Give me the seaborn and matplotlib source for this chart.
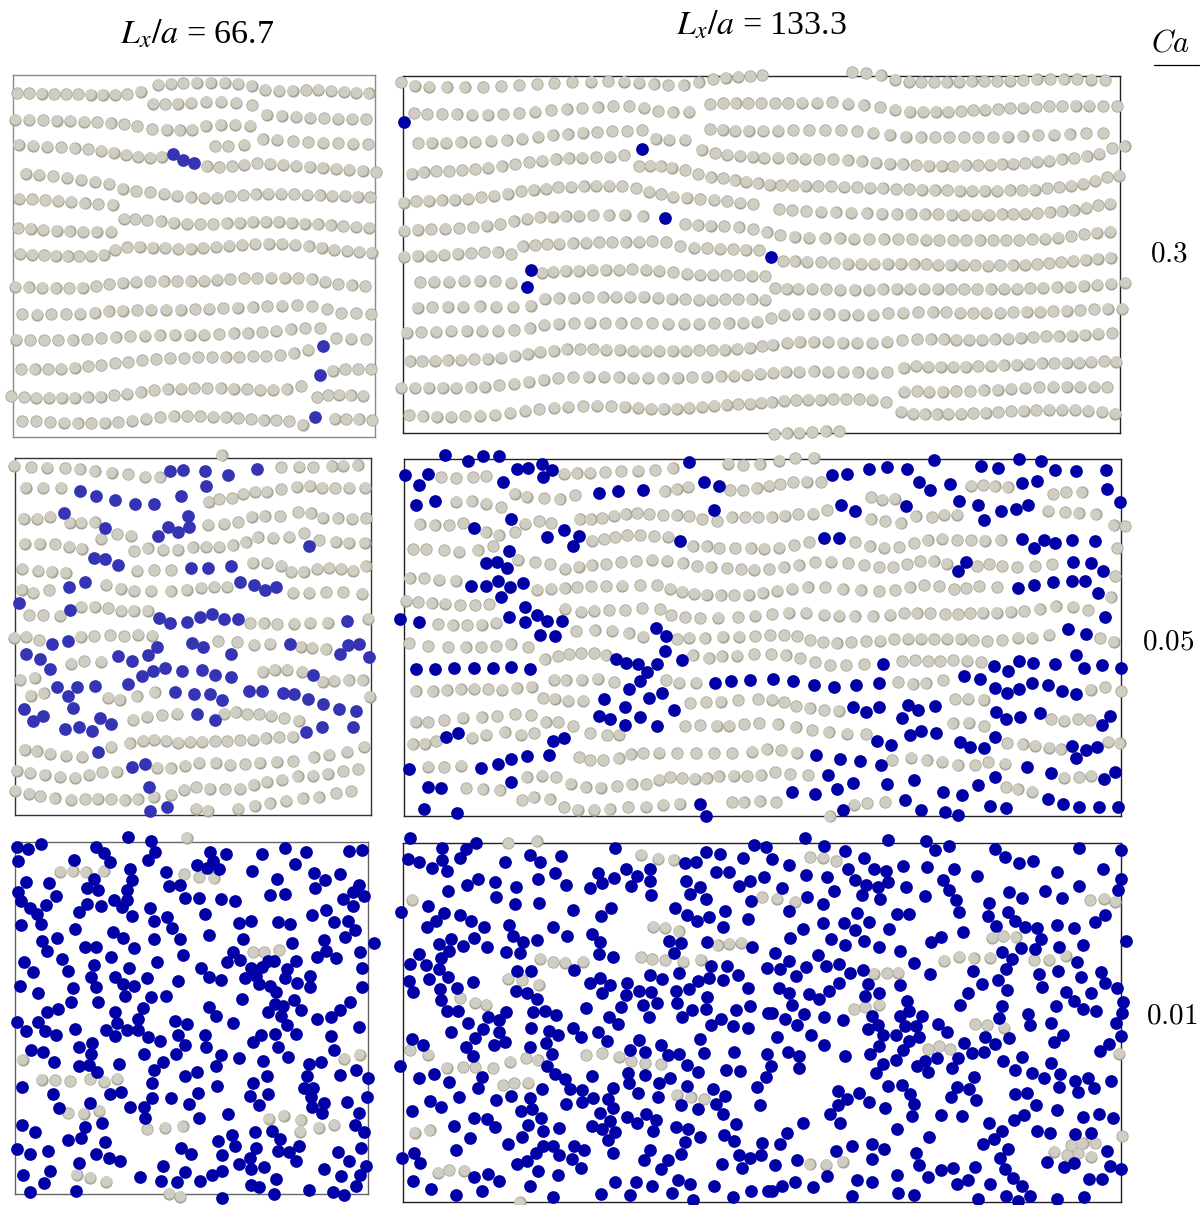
import matplotlib
matplotlib.use('Agg')
import matplotlib.pyplot as plt
from matplotlib.lines import Line2D
import numpy as np
import pandas as pd
import seaborn as sns

### Particle centres (1 unit = 1/3 pixel, per crop) ###
p1_grey = [51,100, 88,100, 125,102, 162,103, 199,103, 235,103, 272,104, 308,105, 345,105, 381,103, 422,95, 475,74, 513,71, 550,70, 590,68, 632,68, 674,68, 715,71, 755,77, 795,89, 837,92, 878,93, 918,91, 955,90, 993,93, 1032,96, 1069,98, 1106,100,
    460,131, 496,133, 533,132, 574,129, 618,126, 664,126, 709,129, 757,136, 800,165, 845,168, 888,171, 931,173, 973,175, 1015,176, 1056,177, 1098,178,
    46,180, 88,180, 129,181, 170,182, 211,183, 252,185, 292,187, 332,190, 372,193, 412,199, 457,208, 500,210, 539,211, 576,209, 617,197, 662,194, 705,195, 750,197,
    56,254, 99,257, 142,260, 183,262, 224,265, 264,268, 303,273, 341,278, 378,285, 414,290, 450,293, 485,291, 646,259, 685,259, 732,254, 788,238, 832,240, 879,244, 925,247, 969,248, 1014,250, 1060,252, 1104,253,
    620,319, 658,322, 696,319, 733,314, 771,310, 810,311, 850,314, 889,317, 929,320, 968,323, 1008,326, 1048,329, 1088,333, 1129,337,
    77,342, 118,345, 160,349, 202,353, 243,359, 285,365, 327,372, 368,387, 408,394, 451,397, 492,401, 532,407, 572,412, 613,414, 652,413, 691,409, 729,406, 767,403, 805,402, 844,402, 882,403, 921,405, 959,406, 997,407, 1035,408, 1073,410, 1111,412,
    58,416, 96,418, 135,421, 174,423, 213,426, 254,430, 295,433, 338,435,
    372,477, 405,478, 442,481, 482,484, 521,488, 561,491, 600,493, 640,493, 680,490, 719,488, 758,486, 797,485, 836,486, 875,488, 914,491, 953,493, 992,496, 1030,499, 1069,501, 1107,503,
    54,505, 92,507, 130,509, 170,512, 209,514, 250,516, 290,516, 333,516,
    60,581, 96,584, 132,586, 167,588, 203,589, 238,589, 274,588, 311,584, 346,570, 381,562, 419,561, 458,563, 496,564, 534,566, 572,566, 610,563, 649,560, 687,557, 727,554, 766,552, 806,551, 847,552, 886,554, 926,559, 965,564, 1003,569, 1041,572, 1078,575, 1115,578,
    45,681, 86,682, 127,684, 167,685, 208,685, 248,684, 288,680, 328,674, 368,669, 408,666, 450,665, 491,665, 532,665, 572,665, 612,663, 652,660, 691,658, 732,656, 772,655, 813,654, 854,654, 895,656, 935,659, 975,666, 1015,673, 1055,677, 1096,679,
    67,764, 111,765, 154,764, 198,764, 241,762, 284,759, 326,755, 368,753, 411,751, 454,750, 498,750, 542,750, 585,749, 628,747, 670,746, 713,744, 758,742, 801,740, 846,738, 891,737, 937,739, 982,748, 1023,760, 1069,761, 1114,763,
    48,840, 91,842, 133,842, 175,842, 218,842, 261,839, 304,836, 347,833, 391,830, 435,828, 479,826, 524,825, 569,825, 613,825, 657,823, 701,821, 743,820, 786,817, 828,813, 872,809, 916,805, 961,805, 1008,835, 1053,837, 1098,838,
    64,929, 104,929, 145,928, 184,927, 224,924, 264,920, 304,916, 345,911, 385,907, 427,902, 468,899, 510,896, 552,895, 595,893, 636,893, 677,892, 718,892, 759,890, 799,889, 840,886, 881,880, 925,870,
    998,933, 1035,929, 1074,928, 1114,929,
    34,1010, 72,1012, 109,1014, 147,1014, 185,1014, 224,1014, 263,1013, 302,1011, 342,1006, 381,1002, 422,997, 462,992, 503,989, 544,987, 583,986, 622,986, 662,986, 701,987, 741,989, 781,990, 820,990, 860,988, 904,979,
    952,1013, 984,1007, 1017,1005, 1052,1006, 1090,1008,
    66,1084, 108,1085, 150,1087, 192,1089, 233,1090, 274,1090, 314,1089, 355,1088, 397,1083, 439,1077, 481,1072, 521,1070, 561,1069, 600,1069, 639,1071, 677,1073, 715,1075, 754,1079, 791,1081, 828,1082, 868,1084, 908,1095, 1004,1077, 1039,1078, 1076,1079, 1116,1081]
p1_blue = [518,281, 549,301, 583,308, 968,858, 960,947, 944,1073]

p2_grey = [43,63, 93,67, 141,68, 195,70, 239,73, 284,79, 335,83, 385,88, 436,96, 479,97, 665,31, 843,67, 897,65, 940,67, 995,64, 1030,63, 1073,61,
    77,129, 129,129, 183,129, 626,171, 658,163, 697,160, 730,146, 765,141, 800,141, 843,133, 890,125, 929,123, 966,128, 1006,130, 1048,128, 1096,128,
    71,221, 112,221, 151,216, 209,233, 244,233, 284,232, 352,268, 393,272, 303,282, 625,240, 672,236, 714,232, 755,216, 794,214, 840,214, 894,202, 932,205, 968,218, 1013,220, 1057,221, 1098,220,
    74,296, 119,296, 165,298, 207,305, 245,312, 403,319, 443,310, 489,314, 533,315, 578,307, 618,305, 657,305, 698,301, 737,292, 773,277, 820,278, 868,276, 912,265, 958,286, 1007,291, 1046,294, 1094,293,
    67,371, 114,377, 155,380, 197,384, 411,378, 463,376, 513,376, 758,354, 801,354, 843,363, 873,380, 911,380, 951,371, 988,368, 1023,371, 1060,377, 1097,364,
    65,434, 99,443, 147,436, 318,420, 362,432, 403,437, 454,437, 512,439, 560,435, 604,428, 642,426, 681,425, 880,443, 928,444, 979,442, 1030,442, 1086,446,
    87,511, 130,511, 180,512, 244,486, 284,485, 325,490, 363,497, 401,498, 443,498, 751,535, 791,535, 831,538, 883,536, 930,534, 983,534, 1105,522,
    43,579, 79,576, 118,586, 242,576, 283,574, 330,571, 373,574, 414,570, 456,572, 655,589, 711,592, 763,599, 811,596, 902,605, 936,608, 977,613,
    213,656, 253,649, 304,650, 60,705, 104,699, 788,680, 824,675, 861,674, 907,681, 968,711, 1003,708, 1046,706, 1088,706,
    92,752, 131,745, 325,758, 359,765, 410,754, 464,742, 1109,755,
    399,825, 442,816, 486,811, 532,807, 673,806, 707,802, 741,808, 777,808, 813,813, 853,820, 896,827,
    389,895, 430,888, 463,885, 498,887, 534,893, 570,891, 607,891, 646,889, 682,889, 720,886, 759,884, 797,880, 838,877, 878,875,
    74,915, 110,919, 151,926, 198,932, 246,936, 333,906, 941,937, 987,929, 1042,921, 1093,906,
    50,978, 91,984, 134,990, 180,995, 225,999, 267,990, 306,982, 350,980, 472,969, 512,970, 556,963, 598,953, 647,953, 690,959, 735,958, 779,953, 830,951, 879,949,
    45,1038, 87,1047, 121,1054, 164,1060, 213,1065, 255,1063, 293,1062, 334,1063, 374,1066, 413,1063, 461,1055, 513,1050, 552,1035, 589,1027, 629,1031, 675,1033, 720,1032, 761,1020, 800,1010, 846,1004, 893,994, 939,993, 983,986, 1029,979, 1074,973,
    589,1092, 623,1098, 715,1091, 764,1082, 809,1075, 858,1068, 908,1060, 956,1057, 1008,1045, 1053,1039]
p2_blue = [511,78, 548,75, 616,79, 684,89, 771,71, 619,124, 239,139, 288,152, 345,165, 406,176, 463,177, 544,152,
    191,204, 563,212, 316,248, 505,246, 534,262, 568,246, 475,274, 927,304, 281,340, 315,342, 355,361, 573,370, 625,368, 692,363,
    207,425, 254,412, 720,410, 761,421, 794,434, 829,425, 57,474, 210,496, 476,520, 511,533, 562,530, 599,517, 636,508, 672,522, 714,521, 1042,528,
    157,598, 204,588, 471,606, 575,594, 610,605, 869,596, 1043,599, 1076,596, 79,628, 119,641, 353,634, 396,649, 443,631, 694,628, 1020,628, 1108,637,
    150,671, 427,692, 459,678, 496,668, 545,677, 607,675, 646,691, 694,696, 939,691,
    171,726, 231,726, 284,723, 204,753, 385,717, 524,740, 581,746, 631,748, 666,765, 748,737, 787,737, 849,743, 882,748, 923,762, 968,777, 1017,792, 1069,799,
    71,792, 218,790, 99,827, 130,813, 299,820, 332,838, 196,852, 236,847, 276,857, 591,807, 644,826,
    919,862, 967,846, 1060,845, 293,921, 395,966, 435,957, 447,1025, 450,1097, 501,1087]

p3_grey = [560,38, 181,140, 218,138, 257,141, 311,138, 553,148, 598,157, 641,159, 759,382, 792,382, 837,376, 68,704, 1032,702, 1079,689, 125,765, 166,766, 211,769, 270,763, 312,771, 351,762, 205,865, 251,866, 297,858, 806,882, 851,873, 902,886, 901,921, 956,909, 1003,900, 442,913, 496,909, 548,904, 230,1049, 271,1058, 318,1070, 508,1107, 540,1116]
p3_blue = [385,37, 452,48, 51,65, 84,73, 123,58, 288,66, 312,84, 466,80, 631,80, 679,88, 785,88, 855,68, 918,80, 1047,79, 1086,75,
    54,107, 222,105, 330,112, 445,105, 640,108, 884,116, 390,133, 497,142, 590,121, 621,129, 658,133, 756,138, 941,143, 1020,147,
    77,170, 146,175, 281,163, 395,165, 506,182, 541,180, 832,162, 976,164, 944,188, 1078,181,
    261,190, 294,194, 380,196, 55,202, 169,214, 62,228, 342,226, 381,224, 554,220, 598,220, 664,222, 705,228, 809,211, 855,208, 1059,202, 1091,214, 1028,223,
    90,250, 137,241, 262,238, 303,243, 367,246, 450,249, 238,260, 1060,242, 978,255, 111,267, 395,273, 502,277, 616,268, 936,271,
    122,296, 63,300, 461,287, 718,294, 753,288, 833,291, 871,296, 1003,290, 1044,288, 515,309, 225,313, 338,321, 1065,315,
    127,347, 172,340, 369,340, 461,342, 540,341, 627,331, 729,343, 876,353, 973,345, 1034,335, 1123,354,
    255,367, 287,367, 403,370, 142,377, 700,380, 979,378, 1080,380, 548,389, 333,396, 951,395, 1007,398,
    187,402, 72,410, 471,411, 281,421, 680,411, 720,406, 805,407, 822,407, 887,408,
    100,441, 205,437, 387,430, 603,429, 754,429, 787,427, 862,431, 1085,429,
    273,455, 346,456, 441,458, 628,455, 664,466, 736,460, 767,452, 854,458, 929,453, 535,467,
    60,482, 218,488, 288,486, 369,478, 403,484, 777,478, 891,474, 809,484, 931,486, 1087,487,
    114,505, 452,515, 498,512, 376,512, 828,500, 212,532, 293,531, 727,522, 882,525, 1051,531,
    626,545, 824,537, 848,544, 429,550, 173,552, 141,562, 345,561, 803,560, 903,554, 1019,554,
    649,574, 842,572, 951,581, 994,577, 415,582, 51,592, 115,590, 352,594, 524,588, 560,596, 700,595,
    79,617, 134,619, 224,611, 317,614, 380,614, 414,616, 862,601, 1077,605,
    169,631, 345,634, 445,636, 479,648, 533,629, 616,631, 784,630, 825,627, 888,628, 994,633,
    275,653, 554,660, 617,665, 758,652, 835,666, 238,667, 94,675, 128,682, 274,686, 433,687, 529,687, 664,689, 1002,676, 717,700, 863,697,
    161,711, 236,724, 267,719, 356,718, 488,710, 647,723, 789,708, 928,717, 962,712,
    292,740, 461,735, 1067,736, 556,752, 591,742, 801,752, 921,754, 1020,750, 1105,760,
    65,785, 457,775, 651,782, 758,775, 913,788, 940,790, 159,806, 330,806, 364,800, 594,803, 751,814, 805,807, 933,815, 1101,816,
    457,819, 513,820, 270,834, 567,837, 777,840, 973,833, 1042,832, 176,850, 389,845, 431,846, 937,847,
    683,866, 966,865, 1077,864, 436,880, 598,879, 65,899, 306,895, 255,906, 1064,900, 105,921, 816,917, 766,922, 696,929, 1091,921,
    244,939, 205,946, 316,951, 655,947, 841,941, 704,962, 896,962, 51,971, 542,970, 768,968, 1084,969,
    143,979, 90,988, 288,987, 574,986, 666,990, 833,979, 867,982, 1014,982, 327,999, 749,998, 360,1007, 236,1013, 889,1008, 1047,1007,
    489,1022, 718,1018, 753,1032, 792,1026, 971,1032, 1098,1022, 149,1038, 556,1040, 666,1037, 69,1050, 636,1050, 1024,1052, 1080,1049,
    419,1057, 484,1067, 531,1071, 600,1068, 827,1062, 133,1074, 91,1100, 228,1097, 753,1081, 778,1086, 926,1095, 1000,1100, 1069,1083, 1031,1110, 821,1107, 665,1118]

p4_grey_l = [18,66, 59,77, 103,80, 155,81, 209,82, 264,81, 319,79, 373,76, 426,72, 478,69, 532,67, 588,65, 640,64, 688,65, 733,68, 776,73, 820,76, 866,76, 911,67, 954,57, 992,53, 1030,50, 1066,48, 1101,46,
    57,159, 97,163, 141,163, 185,163, 231,164, 278,164, 325,163, 373,159, 421,155, 468,151, 515,147, 562,144, 608,141, 655,138, 702,138, 747,143, 789,154, 833,156, 882,155, 945,132, 984,129, 1022,130, 1060,130, 1099,129,
    69,250, 110,248, 153,248, 197,247, 241,245, 288,242, 335,240, 382,236, 429,230, 473,226, 518,222, 563,218, 607,216, 651,214, 696,213, 742,211, 782,236, 823,239, 870,239, 945,208, 983,209, 1021,212, 1061,212, 1105,212,
    920,269, 960,279, 997,284, 1035,287, 1073,290, 1108,293,
    50,341, 86,337, 123,334, 162,333, 201,331, 240,327, 280,323, 320,319, 361,313, 402,307, 442,302, 482,297, 521,295, 562,293, 604,291, 646,290, 688,286, 733,319, 766,317, 797,319, 830,323, 870,331, 909,343, 947,351, 984,355, 1019,360, 1053,365, 1088,370,
    26,428, 63,423, 101,422, 140,421, 179,419, 219,416, 258,412, 297,407, 338,401, 378,394, 416,389, 453,386, 489,382, 528,380, 566,378, 604,377, 643,377, 682,378, 724,385, 763,395, 798,403, 835,410, 875,413, 916,417, 958,419, 996,423, 1036,428, 1075,433,
    27,512, 68,509, 109,507, 151,506, 193,504, 234,501, 275,497, 316,493, 356,484, 396,476, 434,472, 473,470, 512,469, 552,467, 595,465, 641,465, 689,464, 743,468, 871,492, 908,495, 947,497, 988,499, 1031,502, 1074,507, 1115,517,
    28,590, 68,588, 108,587, 148,584, 188,581, 229,579, 268,577, 308,577, 348,583, 383,558, 420,555, 456,553, 493,551, 533,550, 573,548, 613,547, 652,546, 692,546, 732,545, 772,544, 814,546, 856,558, 898,563, 937,565, 976,566, 1014,567, 1052,569, 1092,571,
    441,639, 474,636, 512,633, 551,632, 592,630, 632,630, 672,629, 712,628, 753,629, 793,632, 835,637, 876,642, 916,644, 955,645, 993,646, 1032,646, 1071,647, 1110,649,
    75,667, 118,665, 162,665, 208,663, 254,662, 300,664, 349,669, 449,716, 491,715, 536,713, 580,712, 623,712, 664,711, 706,711, 746,711, 789,713, 830,716, 871,718, 912,719, 952,719, 991,718, 1030,718, 1070,718, 1110,719,
    68,744, 112,742, 158,741, 205,740, 254,739, 304,740, 354,741, 407,737, 448,794, 491,791, 537,790, 584,789, 630,790, 677,790, 724,790, 772,790, 820,791, 868,791, 912,791, 957,790, 1001,790, 1044,789, 1087,786,
    35,819, 78,817, 123,815, 169,813, 215,813, 262,812, 310,812, 358,811, 404,805,
    44,904, 82,904, 120,902, 158,901, 198,899, 237,898, 278,896, 318,893, 359,888, 398,882, 436,875, 476,872, 515,868, 555,868, 595,868, 634,869, 674,870, 714,872, 754,872, 793,872, 833,872, 873,872, 912,871, 951,871, 989,869, 1027,867, 1064,864, 1102,859,
    19,983, 60,983, 101,984, 143,984, 184,983, 227,982, 269,980, 313,976, 358,971, 401,965, 446,959, 490,955, 535,952, 581,951, 627,951, 671,952, 715,953, 759,954, 803,955, 848,954, 892,952, 935,950, 977,949, 1017,947, 1056,945, 1095,941,
    42,1066, 83,1069, 125,1070, 168,1070, 211,1069, 256,1067, 301,1064, 345,1059, 390,1053, 433,1048, 477,1044, 520,1041, 564,1039, 606,1038, 649,1039, 689,1041, 729,1044, 768,1047, 806,1047, 845,1046, 883,1043, 921,1040, 958,1037, 995,1035, 1030,1033, 1065,1031, 1099,1028]
p4_grey_r = [262,37, 304,40, 347,46, 391,59, 432,65, 468,67, 508,67, 545,66, 582,65, 620,64, 658,64, 697,63, 736,62, 775,60, 815,58, 856,57, 896,57, 937,57, 979,59, 1021,61,
    30,129, 70,129, 112,128, 156,128, 201,127, 249,131, 296,135, 345,142, 391,149, 434,155, 474,155, 512,155, 549,155, 588,153, 625,151, 661,149, 699,147, 736,145, 774,143, 813,141, 852,139, 892,138, 932,137, 972,137, 1014,138, 1057,138,
    40,212, 85,211, 132,210, 180,210, 228,211, 276,213, 324,218, 374,224, 422,230, 467,232, 511,232, 553,232, 597,232, 640,232, 684,231, 728,230, 773,228, 820,226, 867,224, 914,222, 964,219, 1014,219,
    40,293, 80,295, 121,296, 163,297, 205,298, 248,300, 290,304, 332,308, 374,311, 413,313, 453,315, 491,317, 530,317, 565,318, 602,316, 639,315, 675,314, 710,313, 745,311, 781,309, 817,305, 853,302, 890,298, 927,294, 965,289, 1003,281, 1041,264, 1079,258,
    14,374, 48,376, 85,376, 122,377, 159,378, 198,379, 237,380, 276,382, 315,383, 353,385, 393,387, 432,388, 470,389, 509,390, 546,391, 584,392, 622,392, 659,392, 697,392, 734,390, 772,390, 809,389, 846,385, 882,382, 919,377, 955,371, 991,362, 1026,352, 1062,347,
    42,447, 82,451, 124,453, 168,455, 212,456, 259,458, 305,459, 350,461, 395,462, 437,462, 479,462, 520,463, 560,464, 598,464, 636,464, 673,464, 710,463, 745,462, 781,461, 817,459, 854,457, 890,454, 926,450, 963,443, 999,436, 1036,431,
    45,526, 89,530, 133,533, 179,534, 224,535, 268,536, 313,537, 356,538, 399,538, 441,538, 483,539, 523,540, 564,541, 604,541, 644,541, 684,541, 724,541, 763,540, 801,538, 840,536, 879,533, 918,528, 957,522, 995,518, 1036,515,
    54,604, 89,604, 127,606, 168,607, 208,610, 248,611, 288,611, 328,611, 368,612, 407,612, 446,613, 484,613, 520,614, 557,615, 594,615, 631,616, 669,617, 706,616, 743,616, 780,614, 816,613, 853,610, 889,607, 925,603, 962,600, 998,596, 1037,593,
    31,685, 65,686, 100,686, 141,686, 183,688, 226,689, 269,689, 312,689, 353,688, 395,687, 436,686, 478,686, 518,686, 558,688, 598,688, 637,688, 677,688, 717,687, 757,686, 796,685, 835,684, 875,682, 915,680, 956,677, 997,674, 1039,672, 1081,668,
    19,775, 57,764, 100,762, 146,762, 191,763, 236,764, 280,765, 324,764, 370,760, 415,759, 459,757, 503,757, 544,757, 585,759, 624,760, 664,759, 705,758, 745,757, 785,756, 825,755, 865,754, 905,752, 945,751, 987,748, 1028,747, 1072,746,
    23,855, 66,849, 104,846, 146,845, 189,846, 233,848, 277,848, 321,849, 367,845, 412,841, 456,838, 497,838, 536,838, 574,839, 613,840, 651,839, 689,838, 729,836, 767,834, 805,832, 843,829, 881,829, 920,827, 959,824, 999,821, 1041,820,
    24,938, 62,936, 103,935, 146,934, 190,935, 234,936, 278,937, 322,938, 367,937, 416,924, 453,918, 490,920, 527,920, 564,920, 602,920, 640,919, 678,917, 716,916, 755,914, 792,912, 830,910, 867,910, 905,908, 942,908, 979,906, 1017,904, 1053,905,
    20,1027, 57,1022, 93,1021, 129,1020, 167,1019, 205,1018, 243,1018, 283,1018, 322,1019, 364,1027, 418,995, 456,994, 493,995, 533,995, 573,994, 615,994, 656,991, 698,989, 739,986, 781,984, 822,982, 864,981, 905,980, 946,980, 987,981, 1027,982,
    408,1055, 444,1061, 479,1063, 515,1063, 550,1062, 588,1061, 625,1060, 662,1058, 700,1057, 738,1054, 776,1052, 814,1051, 852,1050, 891,1050, 931,1050, 970,1052, 1011,1056, 1050,1061,
    28,1123, 65,1120, 103,1119, 142,1117, 182,1114, 222,1114]
p4_blue_l = [26,187, 742,266, 809,473, 408,629, 397,681]
p4_blue_r = [19,592]

p5_grey_l = [139,97, 184,99, 234,97, 274,93, 507,86, 545,85, 586,83, 631,81, 678,78, 729,77, 780,76, 833,69, 1000,56, 1045,60, 1094,58,
    359,146, 395,155, 448,160, 494,162, 541,151, 809,139, 845,132, 880,125, 1006,136, 1045,135, 1085,129, 184,170, 230,168, 273,176, 319,186,
    554,223, 587,223, 622,219, 658,212, 692,207, 727,204, 763,207, 805,210, 845,210, 882,214, 922,222, 967,228, 1010,217, 1050,217, 1090,217,
    74,238, 119,240, 162,240, 204,235, 272,261, 311,271, 361,262, 390,236, 432,228, 468,235,
    591,287, 627,283, 661,277, 697,270, 735,271, 777,274, 819,275, 893,304, 935,303, 972,310, 1021,309, 1067,309, 1107,311,
    54,313, 94,312, 147,315, 193,320, 248,316, 295,303, 368,344, 420,351, 465,358, 510,371, 551,365, 590,360, 633,357, 678,352, 723,349, 771,344, 817,347, 863,355, 907,364, 947,366, 996,369, 1039,372, 1078,374,
    44,399, 88,400, 133,404, 182,407, 427,434, 468,431, 509,429, 547,427, 589,424, 633,423, 681,422, 735,421, 787,420, 826,431, 861,440, 897,446, 935,449, 977,451, 1018,451, 1061,449, 1103,443,
    34,467, 70,471, 110,474, 151,476, 195,480, 240,481, 283,478, 511,491, 558,500, 598,497, 642,495, 690,495, 742,490, 795,492, 828,511, 871,516, 916,520, 970,518, 1029,516, 1081,512,
    129,538, 173,540, 216,540, 260,539, 303,533, 544,558, 599,555, 652,557, 701,564, 745,575, 846,582, 883,578, 929,580, 983,575, 1033,575, 1081,573,
    43,595, 99,603, 160,607, 212,607, 259,606, 303,603, 347,597, 399,606,
    449,643, 490,634, 522,628, 558,624, 597,624, 632,630, 893,631, 941,640, 980,633, 1026,632, 1077,628,
    477,704, 512,705, 560,704, 608,701, 658,712, 814,705, 852,713, 904,713,
    62,739, 113,738, 155,735, 197,732, 237,731, 279,733, 321,734, 365,730, 410,725,
    445,759, 479,761, 520,767, 564,767, 886,774, 934,772, 977,770, 1029,766, 1090,762,
    62,830, 99,831, 148,825, 203,818, 260,816, 307,813, 360,807, 409,811, 452,832, 489,832, 535,844, 871,843, 915,841, 965,842, 1003,842, 1047,838, 1093,834,
    53,897, 89,896, 123,889, 232,878, 274,869, 329,861, 378,869, 418,864, 585,865, 637,871, 673,869,
    552,937, 586,945, 624,945, 671,939, 707,927, 745,925, 792,923, 847,925, 903,925, 957,924, 1011,925, 1071,920, 1115,913,
    100,965, 147,966, 198,962, 395,996, 442,992, 484,997, 527,1016, 572,1026, 617,1028, 666,1023, 710,1017, 754,1017, 793,1004, 826,996, 862,999, 899,1001, 935,999, 971,994, 1016,992, 1056,994, 1097,990,
    213,1030, 263,1033, 314,1035, 381,1065, 416,1057, 464,1062, 507,1086, 548,1094, 598,1094, 644,1092, 699,1086, 753,1085, 805,1079, 854,1076, 1011,1071, 1046,1072, 1094,1068]
p5_blue_l = [149,31, 220,47, 264,34, 311,34, 441,56, 881,51, 31,89, 100,86, 72,119, 365,73, 399,70, 471,75, 445,97, 323,110, 927,112, 973,123,
    611,143, 670,137, 743,134, 64,181, 120,169, 956,194, 348,221, 238,250, 506,254, 457,275, 551,274, 533,304, 856,288,
    342,318, 273,355, 306,352, 337,369, 308,407, 228,424, 272,424, 345,426, 384,415, 317,455,
    390,486, 15,523, 72,532, 343,515, 391,531, 427,511, 457,529, 500,529, 434,570, 479,572, 783,550, 812,573, 810,618,
    664,641, 694,655, 728,658, 786,656, 862,646, 755,681, 735,708, 702,731, 63,673, 120,673, 178,670, 236,669, 294,670, 348,666, 406,672,
    960,713, 1007,708, 1064,704, 800,744, 761,759, 627,761, 689,787, 838,796, 612,813, 645,822, 735,815, 691,839, 787,843,
    154,877, 189,864, 507,878, 474,887, 463,931, 397,932, 348,941, 309,956, 259,968, 43,973, 349,1011, 98,1026, 137,1029, 88,1093, 185,1103, 915,1077, 934,1114]
p5_grey_r = [43,47, 90,40, 146,38, 12,122, 46,117, 85,112, 125,110, 168,112, 319,157, 351,164, 389,161, 619,122, 655,120, 689,124, 728,126, 864,148, 904,142, 950,141,
    20,217, 59,212, 100,208, 145,206, 187,196, 317,223, 361,229, 407,234, 452,213, 502,217, 538,209, 576,209, 849,197, 900,202, 941,205, 992,208, 1046,240, 1081,244,
    43,308, 88,300, 132,291, 270,292, 314,303, 357,308, 403,306, 447,294, 488,285, 532,281, 576,286, 618,286, 659,287, 707,285, 1057,310,
    13,373, 56,367, 101,361, 150,352, 199,350, 250,355, 297,361, 342,367, 384,366, 427,357, 466,349, 506,349, 545,356, 636,364, 672,358, 712,363, 756,367, 811,363, 862,357, 1051,394,
    37,437, 81,431, 128,427, 181,427, 233,432, 287,436, 342,438, 391,435, 434,427, 478,421, 522,423, 567,433, 604,429, 642,423, 697,426, 1037,457,
    22,507, 71,503, 123,503, 177,509, 222,512, 269,513, 323,513, 376,509, 417,505, 455,504, 495,504, 540,507, 580,507, 616,504, 653,503, 695,503, 737,500, 778,498, 824,492, 872,483, 925,485, 970,495,
    15,570, 58,570, 97,574, 136,586, 175,592, 215,594, 259,592, 303,589, 345,587, 388,582, 430,581, 468,581, 507,582, 547,581, 587,581, 625,585, 667,588, 712,586, 760,578, 802,578, 852,569, 1006,580, 1046,590,
    18,627, 62,630, 106,640, 151,652, 195,660, 244,660, 297,657, 412,649, 451,645, 489,648, 526,648, 565,646, 606,647, 648,652,
    400,712, 443,717, 482,715, 534,705, 977,734, 1021,727, 1069,739, 22,764, 57,771, 94,783, 134,789, 178,795, 221,797, 570,762, 609,761, 656,764,
    38,838, 92,846, 142,856, 191,862, 246,866, 303,868, 563,835, 611,833, 658,843, 858,822, 898,827, 939,823, 975,825,
    48,915, 95,923, 726,894, 773,898, 810,902, 853,908, 887,912, 1029,890, 1064,895,
    382,945, 438,938, 485,945, 532,950, 578,960, 630,961, 670,951, 721,956, 30,982, 76,987, 129,991, 898,998, 942,996, 979,992,
    724,1027, 758,1033, 802,1040, 33,1072, 267,1079, 307,1075, 361,1072, 194,1113]
p5_blue_r = [506,46, 649,63, 698,68, 763,43, 828,48, 201,90, 245,87, 311,71, 365,67, 425,71, 871,74, 934,77, 1023,76,
    462,112, 495,135, 554,117, 770,114, 817,107, 1026,133, 583,167, 640,180, 227,181, 269,199, 423,183, 708,198, 754,193, 790,181, 1064,172, 656,225,
    178,279, 222,279, 770,282, 837,285, 871,294, 922,285, 989,288, 807,310, 604,351, 580,378, 925,351, 977,354, 1015,379,
    758,428, 807,421, 863,412, 920,408, 961,409, 1000,444, 1019,515, 910,553, 964,566,
    934,629, 355,656, 686,664, 728,677, 763,649, 803,654, 869,656, 956,669, 1010,659, 1068,669,
    23,702, 85,708, 147,720, 206,725, 273,719, 343,714, 597,694, 646,701, 689,730, 726,744, 763,733, 801,714, 848,719, 890,739, 933,746,
    265,786, 304,802, 341,785, 428,779, 460,795, 511,784, 410,820, 693,801, 722,821, 766,815, 825,803, 1036,813, 1011,841,
    435,869, 468,859, 514,864, 691,875, 337,888, 378,900, 584,891, 615,905, 656,908, 921,902, 963,915, 996,905,
    152,930, 225,942, 284,947, 347,961, 932,940, 785,966, 859,983, 1051,982, 189,991, 691,995, 1018,1003, 448,1005, 263,1015, 367,1018, 215,1033, 640,1019,
    81,1041, 150,1046, 533,1042, 592,1049, 421,1064, 850,1061, 893,1077, 943,1087, 1001,1086, 1059,1085, 235,1094, 468,1094, 539,1102, 580,1111, 676,1084, 723,1090]

p6_grey_l = [339,55, 425,49, 738,90, 790,102, 836,105, 52,225, 1101,217, 775,305, 810,309, 851,319, 968,361, 1002,357, 1038,353, 436,402, 475,412, 510,414, 565,411, 739,397, 772,403, 810,406, 864,410, 917,405, 340,461, 382,466, 431,479, 195,520, 240,533, 274,540, 574,690, 621,684, 672,695, 708,709, 751,714, 798,717, 45,676, 100,689, 345,710, 394,699, 428,706, 155,728, 205,726, 240,727, 294,729, 324,781, 357,775, 399,773, 845,809, 887,816, 928,822, 59,923, 104,915, 129,1043, 163,1035, 208,1037, 374,1131]
p6_blue_l = [45,39, 141,70, 213,71, 244,53, 659,70, 1078,60, 1113,67, 39,103, 73,110, 142,105, 194,100, 406,91, 497,93, 329,112, 435,112, 932,82, 975,87, 1043,98, 870,115, 904,112,
    110,129, 155,139, 481,143, 608,143, 694,131, 766,133, 964,140, 1001,140, 725,154, 1108,155, 248,163, 299,171, 428,161, 656,158, 765,168, 621,175, 874,169, 1064,168, 217,181, 363,185, 513,180, 584,189, 708,184, 916,185, 1031,184,
    160,197, 304,216, 884,206, 768,211, 933,222, 1069,228, 100,243, 359,237, 431,233, 18,261, 148,264, 535,256, 648,249, 195,270, 617,272, 839,249, 875,269, 942,276, 989,259, 1058,282,
    123,287, 228,288, 905,287, 95,307, 268,307, 343,301, 474,306, 985,307, 238,338, 355,334, 516,334, 591,327, 167,342, 427,344, 385,351, 615,352, 822,349, 857,353, 936,350,
    131,358, 204,364, 275,367, 163,377, 334,380, 374,384, 612,387, 1070,367, 838,385, 72,386, 138,398, 655,397, 44,418, 92,420, 133,433, 947,423, 995,424, 1117,428,
    366,437, 409,438, 538,436, 851,443, 1029,449, 765,450, 158,457, 802,463, 41,469, 102,462, 233,472, 616,458, 586,475, 645,479, 697,475, 942,460, 909,469, 985,466,
    135,491, 186,488, 883,492, 733,498, 767,502, 842,499, 1059,490, 55,502, 363,498, 397,505, 621,505, 692,510, 937,517, 138,525, 427,522, 785,533, 847,535, 745,541, 679,545, 572,548, 1065,542,
    155,559, 190,557, 334,561, 413,562, 451,558, 932,552, 891,556, 1024,554, 484,569, 278,575, 641,575, 763,576, 862,575, 978,582, 1120,565,
    312,586, 220,595, 670,596, 948,600, 533,608, 407,610, 1013,604, 1060,610, 265,613, 168,620, 311,621, 462,617, 489,631, 558,636, 610,621,
    240,639, 331,650, 636,648, 52,641, 914,643, 732,646, 85,660, 297,660, 454,654, 406,667, 213,666, 704,674, 797,661, 472,686, 750,681, 818,689, 852,686, 928,683, 1016,680, 1117,687, 235,693,
    457,723, 14,724, 875,720, 117,746, 480,748, 699,743, 908,740, 994,736, 1034,738, 751,750, 591,752, 73,760, 261,755, 511,761, 825,758, 1113,755,
    163,770, 702,775, 793,773, 877,784, 1087,785, 249,790, 526,793, 560,796, 440,791, 655,790, 954,792, 193,817, 347,814, 405,819, 595,820, 640,821, 730,804, 788,815, 991,814,
    304,826, 104,828, 512,836, 561,831, 139,845, 963,837, 857,841, 1095,840, 51,857, 412,852, 377,859, 655,850, 908,853, 615,865, 985,866,
    237,879, 276,883, 439,878, 695,877, 754,868, 783,885, 646,887, 726,893, 1023,896, 178,904, 300,907, 400,899, 590,903, 622,912, 492,910, 843,906, 879,913,
    445,918, 660,920, 775,918, 986,930, 224,938, 382,936, 638,945, 916,937, 871,950, 1016,948, 339,957, 445,962, 473,964, 536,962, 1101,955, 182,976, 567,975, 766,974,
    423,985, 57,984, 653,984, 857,988, 491,990, 1032,990, 1064,998, 1097,991, 20,998, 75,1014, 530,1001, 397,1007, 746,1006, 819,1006, 366,1018, 982,1016, 559,1030, 797,1033, 1041,1030,
    428,1038, 238,1055, 279,1048, 490,1049, 55,1067, 311,1069, 660,1072, 722,1071, 849,1065, 885,1078, 406,1083, 770,1083, 957,1083, 107,1091, 260,1098, 1068,1099,
    184,1109, 474,1115, 619,1108, 705,1111, 832,1104, 893,1126, 1013,1117, 1120,1098]
p6_grey_r = [135,97, 174,98, 213,109, 36,222, 91,231, 976,226, 1018,222, 1051,230, 681,338, 715,334, 752,337, 537,407, 583,396, 626,400, 675,398, 808,406, 853,405, 902,393, 326,447, 366,445, 400,443, 267,553, 300,547, 342,540, 631,598, 667,601, 717,608, 490,673, 522,664, 555,672, 1062,686, 1072,933, 919,961, 953,954, 991,955, 867,980, 907,991, 940,985, 978,995, 134,1018, 183,1019, 233,1010]
p6_blue_r = [121,40, 370,44, 482,48, 178,62, 510,74, 551,64, 691,71, 943,70, 1067,76, 241,77, 21,102, 721,97, 761,113, 804,107, 296,100, 72,120, 415,122, 487,126, 566,133, 875,142, 1014,132,
    124,151, 186,155, 250,133, 328,131, 362,137, 637,153, 1069,161, 269,164, 535,166, 304,179, 338,186, 370,171, 422,185, 941,183, 51,190, 207,198, 551,196, 732,201, 839,198, 1060,195, 291,211, 127,216, 345,221, 480,214, 771,218, 892,218, 573,224,
    175,237, 673,233, 71,259, 277,264, 396,268, 431,267, 583,262, 670,272, 730,261, 1019,271, 175,293, 237,295, 312,292, 751,288, 991,292, 694,304, 780,305, 815,310, 875,301, 926,308,
    115,311, 271,316, 371,312, 594,321, 827,343, 75,340, 199,342, 296,347, 529,337, 498,351, 239,361, 769,369, 809,373, 883,365, 955,360, 341,366, 30,384, 404,378, 712,381, 160,391, 1084,348, 741,403, 937,410,
    73,407, 184,422, 223,418, 446,415, 44,433, 124,425, 293,435, 254,444, 92,452, 494,447, 623,439, 722,433, 878,438, 822,446, 1008,440, 948,456, 222,475, 309,478, 404,479, 652,476, 700,466, 1021,473, 41,488, 830,485, 191,498, 725,495, 1055,488,
    72,503, 133,507, 343,505, 610,504, 902,500, 977,505, 301,514, 163,523, 427,527, 926,527, 1075,530, 81,541, 585,540, 710,544, 873,544, 953,551,
    22,564, 118,566, 432,559, 994,557, 789,566, 1072,564, 404,573, 470,574, 320,574, 178,575, 703,578, 61,581, 234,585, 339,599, 96,600, 518,597, 857,594, 796,601, 1052,593, 420,603, 453,604, 310,611, 545,621,
    353,631, 392,630, 138,631, 35,635, 461,636, 894,631, 660,635, 731,639, 1068,634, 431,648, 597,655, 690,656, 866,652, 176,661, 341,664, 1033,657, 414,674, 69,680, 658,681, 622,685, 1005,678,
    102,694, 240,693, 315,688, 772,695, 515,700, 580,699, 480,708, 857,713, 393,705, 715,709, 353,716, 19,722, 455,722, 102,729, 560,730, 751,734, 332,743, 488,742, 801,743, 884,746, 837,759,
    626,756, 929,768, 970,759, 1038,768, 368,782, 412,780, 577,786, 612,792, 882,785, 986,790, 220,798, 283,804, 435,807, 751,806, 786,805, 939,802,
    246,821, 312,831, 559,816, 634,824, 218,841, 448,838, 814,839, 360,848, 196,868, 440,873, 529,870, 592,873, 778,869, 875,856, 955,875, 1003,866, 1043,878, 747,884, 114,893, 226,894, 671,894,
    395,913, 710,918, 817,917, 856,923, 931,926, 978,923, 65,924, 491,935, 686,942, 655,957, 46,958, 260,964, 322,957, 356,973, 730,971, 213,977, 454,984, 1025,977,
    95,1004, 322,1001, 706,998, 847,1010, 31,1021, 463,1021, 1034,1022, 896,1025, 928,1014, 631,1025, 528,1036, 563,1030, 720,1031, 1067,1031,
    186,1054, 395,1050, 490,1057, 745,1060, 609,1064, 277,1065, 321,1072, 575,1076, 676,1076, 971,1062, 1011,1063, 91,1071, 52,1083, 771,1083, 143,1087, 20,1097,
    398,1104, 448,1109, 261,1112, 795,1112, 723,1113, 957,1115, 639,1122, 758,1128, 875,1123]

col_titles = ['$L_x/a$ = 66.7', '$L_x/a$ = 133.3']
ca_labels = ['$0.3$', '$0.05$', '$0.01$']

W, H = 1202, 1205


def table(left, right=None):
    # right crop starts 370 px (1110 units) further along than the left one
    df = pd.DataFrame(np.array(left).reshape(-1, 2), columns=['x', 'y'])
    if right is not None:
        r = pd.DataFrame(np.array(right).reshape(-1, 2), columns=['x', 'y'])
        r['x'] = r['x'] + 1110
        df = pd.concat([df, r], ignore_index=True)
    return df


def draw_panel(box, frame, grey, blue, blue_col, edge_col):
    # box = pixel frame, frame = same frame in crop units
    l, t, r, b = box
    ax = fig.add_axes([l / W, 1 - b / H, (r - l) / W, (b - t) / H])
    ax.patch.set_alpha(0)
    g = grey.copy()
    sns.scatterplot(data=g, x='x', y='y', color='#a9a69a', s=78, linewidth=0, zorder=3, clip_on=False, ax=ax)
    g['x'] = g['x'] - 1
    g['y'] = g['y'] - 1.5
    sns.scatterplot(data=g, x='x', y='y', color='#d0cdc2', s=58, linewidth=0, zorder=4, clip_on=False, ax=ax)
    sns.scatterplot(data=blue, x='x', y='y', color=blue_col, s=84, linewidth=0, zorder=5, clip_on=False, ax=ax)
    ax.set_xlim(frame[0], frame[1])
    ax.set_ylim(frame[3], frame[2])
    ax.set(xlabel='', ylabel='', xticks=[], yticks=[])
    for s in ax.spines.values():
        s.set_visible(True)
        s.set_color(edge_col)
        s.set_linewidth(1.0)
    return ax


sns.set_theme(style='white')
plt.rcParams['font.family'] = ['Liberation Serif', 'DejaVu Sans']
plt.rcParams['mathtext.fontset'] = 'stix'

fig = plt.figure(figsize=(W / 100, H / 100), dpi=100, facecolor='white')

light_blue = '#3434b4'
dark_blue = '#0000a6'

draw_panel((13.3, 75, 375, 437), (40, 1125, 45, 1132), table(p1_grey), table(p1_blue), light_blue, '#8a8a8a')
draw_panel((14.7, 458.3, 371.3, 815), (44, 1114, 40, 1110), table(p2_grey), table(p2_blue), light_blue, '#333333')
draw_panel((15, 841.7, 368.3, 1194.3), (45, 1105, 50, 1108), table(p3_grey), table(p3_blue), dark_blue, '#666666')
draw_panel((402.7, 75.7, 1120, 433.3), (23, 2175, 47, 1120), table(p4_grey_l, p4_grey_r), table(p4_blue_l, p4_blue_r), dark_blue, '#222222')
draw_panel((403.7, 458.7, 1121, 816), (26, 2178, 41, 1113), table(p5_grey_l, p5_grey_r), table(p5_blue_l, p5_blue_r), dark_blue, '#222222')
draw_panel((403, 843.3, 1121, 1201.7), (24, 2178, 55, 1130), table(p6_grey_l, p6_grey_r), table(p6_blue_l, p6_blue_r), dark_blue, '#222222')

# column headings
fig.text(197 / W, 1 - 34 / H, col_titles[0], fontsize=24.5, ha='center', va='center', color='black')
fig.text(762 / W, 1 - 25 / H, col_titles[1], fontsize=24.5, ha='center', va='center', color='black')

# Ca column on the right
fig.text(1171 / W, 1 - 44 / H, '$Ca$', fontsize=22, ha='center', va='center', color='black', math_fontfamily='cm')
fig.add_artist(Line2D([1154 / W, 1199 / W], [1 - 64.5 / H, 1 - 64.5 / H], color='black', lw=0.9))
fig.text(1169 / W, 1 - 255 / H, ca_labels[0], fontsize=21, ha='center', va='center', color='black', math_fontfamily='cm')
fig.text(1168 / W, 1 - 642 / H, ca_labels[1], fontsize=21, ha='center', va='center', color='black', math_fontfamily='cm')
fig.text(1172 / W, 1 - 1017 / H, ca_labels[2], fontsize=21, ha='center', va='center', color='black', math_fontfamily='cm')

fig.savefig('out.png', dpi=100, facecolor='white')
